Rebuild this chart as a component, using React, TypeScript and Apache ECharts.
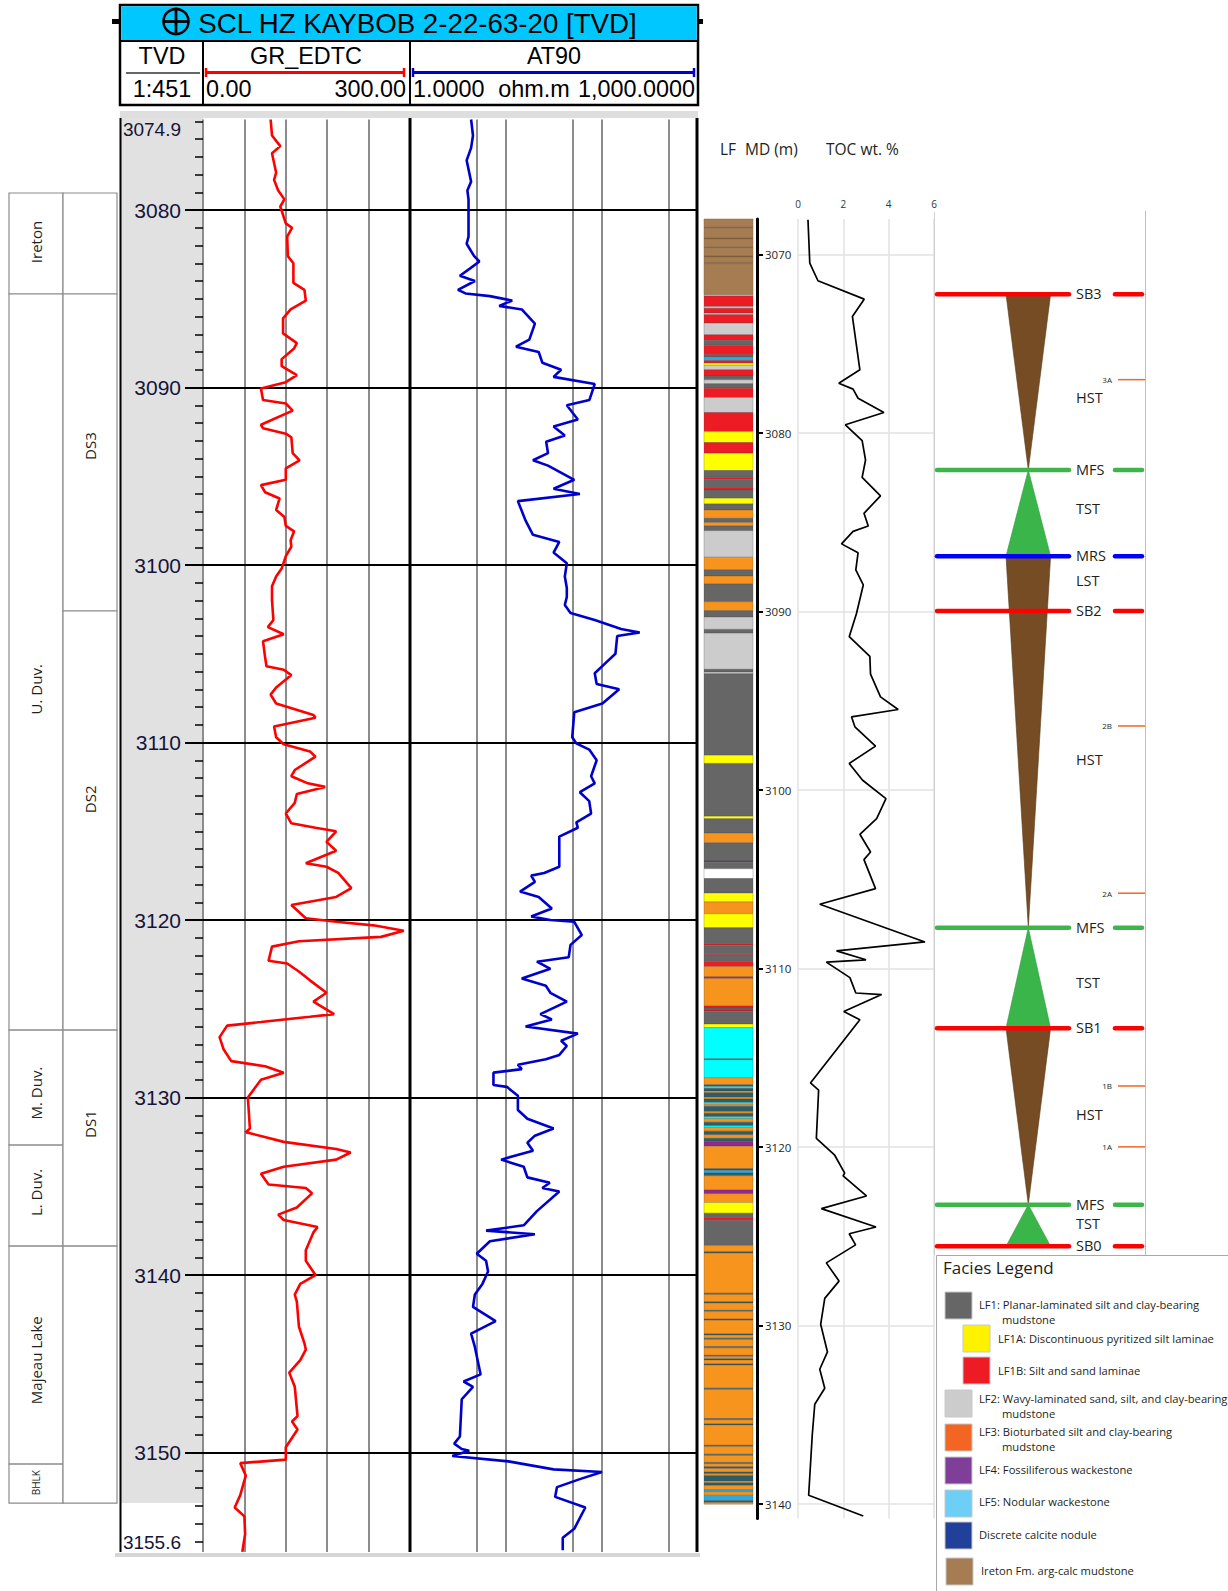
import React, { useEffect, useRef } from 'react';
import * as echarts from 'echarts';

// ---------------- DATA ----------------
const TVD_MIN = 3074.9;
const TVD_MAX = 3155.6;
const MD_MIN = 3068;
const MD_MAX = 3140.8;
const LF_BASE = 3140.0;

const tvdLabelValues = [3074.9, 3080, 3090, 3100, 3110, 3120, 3130, 3140, 3150, 3155.6];
const tvdMajor = [3080, 3090, 3100, 3110, 3120, 3130, 3140, 3150];
const mdMajor = [3070, 3080, 3090, 3100, 3110, 3120, 3130, 3140];
const at90GridValues = [5, 10, 50, 100, 500];

// GR_EDTC (API) vs TVD (m)
const grDepth = [3074.9, 3075.8, 3076.4, 3076.8, 3077.9, 3078.3, 3078.9, 3079.4, 3079.8, 3080.75, 3081.0, 3081.5, 3082.6, 3083.0, 3084.1, 3084.5, 3085.1, 3085.6, 3086.1, 3086.95, 3087.5, 3087.8, 3088.4, 3088.8, 3089.3, 3089.7, 3090.05, 3090.7, 3090.9, 3091.3, 3092.1, 3092.3, 3092.6, 3092.8, 3093.7, 3094.1, 3094.55, 3095.2, 3095.5, 3095.9, 3096.25, 3096.9, 3097.3, 3097.8, 3098.1, 3098.6, 3098.97, 3099.5, 3100.2, 3100.65, 3101.2, 3101.97, 3103.1, 3103.5, 3103.9, 3104.3, 3105.2, 3105.7, 3105.9, 3106.2, 3106.9, 3107.3, 3107.8, 3108.2, 3108.45, 3108.6, 3109.1, 3109.7, 3110.1, 3110.5, 3110.8, 3111.55, 3111.9, 3112.3, 3112.5, 3112.9, 3113.4, 3114.0, 3114.55, 3114.8, 3115.0, 3115.6, 3116.1, 3116.8, 3117.0, 3117.35, 3118.2, 3118.7, 3119.15, 3119.9, 3120.1, 3120.3, 3120.6, 3120.95, 3121.2, 3121.5, 3122.3, 3122.45, 3122.9, 3123.4, 3124.1, 3124.6, 3125.3, 3125.45, 3125.75, 3125.95, 3126.6, 3127.3, 3127.95, 3128.24, 3128.6, 3129.0, 3130.0, 3131.75, 3131.95, 3132.5, 3132.9, 3133.1, 3133.5, 3133.9, 3134.3, 3134.9, 3135.1, 3135.4, 3136.2, 3136.6, 3136.9, 3137.3, 3137.6, 3138.6, 3139.2, 3140.0, 3140.5, 3141.1, 3141.5, 3142.9, 3143.85, 3144.2, 3144.8, 3145.5, 3146.3, 3147.95, 3148.25, 3148.7, 3149.7, 3150.4, 3150.6, 3151.3, 3152.4, 3153.1, 3153.6, 3154.6, 3155.6];
const grValue = [98, 100, 112, 100, 106, 103, 109, 118, 112, 120, 129, 122, 123, 131, 131, 147, 149, 127, 116, 116, 136, 132, 114, 114, 136, 120, 84, 87, 120, 130, 84, 87, 120, 128, 130, 140, 120, 120, 84, 90, 111, 106, 118, 120, 132, 127, 128, 120, 114, 106, 100, 100, 102, 94, 117, 87, 90, 92, 117, 128, 106, 98, 106, 139, 160, 163, 103, 106, 117, 155, 163, 133, 128, 152, 177, 136, 133, 120, 128, 163, 193, 179, 193, 149, 179, 196, 215, 193, 128, 149, 193, 247, 291, 258, 139, 100, 95, 122, 139, 155, 179, 160, 190, 155, 84, 35, 24, 30, 41, 90, 117, 84, 65, 68, 62, 117, 193, 214, 193, 117, 84, 95, 149, 158, 136, 109, 117, 166, 160, 149, 149, 163, 141, 133, 136, 139, 147, 149, 141, 125, 133, 137, 129, 137, 120, 120, 54, 62, 54, 46, 60, 61, 57];

// AT90 (ohm.m) vs TVD (m)
const atDepth = [3074.9, 3075.8, 3076.5, 3077.2, 3078.4, 3078.9, 3079.4, 3081.5, 3081.9, 3082.6, 3082.9, 3083.3, 3083.7, 3084.0, 3084.5, 3084.7, 3084.85, 3085.1, 3085.4, 3085.6, 3086.4, 3087.3, 3087.7, 3088.0, 3088.6, 3089.0, 3089.4, 3089.8, 3090.7, 3091.0, 3091.8, 3092.2, 3092.7, 3093.05, 3093.7, 3094.1, 3094.4, 3095.2, 3095.7, 3096.0, 3096.4, 3097.5, 3098.3, 3098.7, 3099.3, 3099.9, 3100.65, 3101.3, 3101.8, 3102.25, 3102.7, 3103.1, 3103.6, 3103.8, 3104.0, 3105.0, 3105.5, 3106.1, 3106.7, 3107.0, 3107.8, 3108.3, 3109.7, 3110.05, 3110.4, 3111.0, 3111.9, 3112.3, 3112.8, 3113.3, 3114.0, 3114.5, 3114.8, 3115.3, 3117.0, 3117.35, 3117.5, 3117.85, 3118.4, 3118.7, 3119.35, 3119.8, 3120.0, 3120.1, 3120.85, 3121.4, 3122.1, 3122.35, 3122.75, 3123.3, 3123.7, 3124.1, 3124.6, 3125.3, 3125.6, 3126.0, 3126.4, 3126.8, 3127.1, 3127.6, 3127.85, 3128.15, 3128.4, 3128.6, 3129.3, 3129.4, 3129.9, 3130.7, 3131.2, 3131.75, 3132.15, 3132.55, 3133.0, 3133.5, 3133.9, 3134.5, 3134.8, 3135.1, 3135.3, 3136.4, 3137.2, 3137.5, 3137.7, 3138.1, 3138.8, 3139.2, 3139.8, 3140.5, 3141.1, 3141.8, 3142.6, 3143.3, 3144.05, 3145.6, 3146.0, 3146.3, 3147.0, 3149.1, 3149.5, 3149.8, 3149.9, 3150.2, 3150.5, 3150.95, 3151.1, 3151.5, 3151.95, 3152.5, 3153.1, 3154.3, 3154.8, 3155.5];
const atValue = [4.33, 4.53, 4.33, 3.89, 4.33, 3.96, 4.07, 4.07, 3.89, 4.66, 5.28, 4.2, 3.31, 4.74, 3.16, 3.79, 6.79, 11.6, 8.5, 14.6, 20, 17.5, 12.7, 21.9, 23.9, 37.5, 31.3, 84, 74, 43, 56, 31.3, 41, 26.2, 27.4, 19.1, 27.4, 51.4, 31.3, 58.8, 13.3, 16, 19.1, 35.9, 31.3, 43, 41, 43, 43, 41, 47, 84, 158, 247, 144, 138, 110, 84, 88, 151, 101, 51.4, 49, 54, 73.6, 88, 77, 84, 58.8, 73.6, 77, 54, 56, 35.9, 35.9, 25, 18.3, 20, 14, 21.9, 30, 18.3, 29, 51.4, 61.6, 47, 45, 21, 29, 14.6, 26, 29, 43, 22.8, 30, 16, 56, 37.5, 43, 35.9, 26, 13.3, 14.6, 7.4, 7.4, 10.2, 13.3, 13.3, 16.7, 31.3, 20, 16.7, 19.1, 8.9, 15.3, 16.7, 28.6, 23.9, 35.9, 21, 15.3, 6.2, 20, 6.8, 4.96, 6.2, 6.5, 5.68, 4.74, 4.53, 7.8, 4.33, 4.74, 5.44, 3.62, 4.53, 3.46, 3.31, 2.89, 3.46, 4.14, 2.76, 10.6, 31.3, 100, 58.8, 34, 32.5, 67, 51.4, 39, 39];

// TOC (wt. %) vs MD (m)
const tocDepth = [3068.04, 3070.47, 3071.46, 3072.49, 3073.46, 3076.45, 3077.2, 3077.53, 3078.04, 3078.84, 3079.53, 3080.41, 3081.5, 3082.47, 3083.51, 3084.49, 3085.2, 3085.5, 3086.2, 3086.7, 3087.66, 3088.5, 3090.1, 3091.4, 3092.5, 3093.5, 3094.77, 3095.48, 3095.89, 3096.45, 3097.53, 3098.5, 3099.44, 3100.47, 3101.59, 3102.47, 3103.46, 3103.89, 3105.51, 3106.39, 3108.5, 3109.0, 3109.5, 3109.63, 3110.5, 3111.36, 3111.45, 3112.4, 3112.86, 3116.4, 3116.8, 3119.5, 3120.45, 3121.45, 3121.6, 3122.73, 3123.44, 3124.47, 3124.85, 3125.47, 3126.48, 3127.5, 3128.47, 3129.92, 3131.47, 3132.44, 3133.5, 3134.4, 3136.1, 3139.5, 3140.66];
const tocValue = [0.44, 0.52, 0.88, 2.92, 2.40, 2.73, 1.80, 2.43, 2.65, 3.79, 2.09, 2.83, 2.98, 2.83, 3.64, 2.91, 3.10, 2.43, 1.92, 2.65, 2.55, 2.88, 2.58, 2.26, 3.17, 3.2, 3.64, 4.42, 2.36, 2.51, 3.42, 2.26, 2.85, 3.88, 3.47, 2.73, 3.2, 2.91, 3.42, 0.96, 5.6, 1.70, 3.0, 1.25, 2.29, 2.55, 3.69, 2.02, 2.73, 0.55, 0.91, 0.81, 1.62, 2.06, 1.99, 3.02, 1.03, 3.44, 2.26, 2.54, 1.25, 1.81, 1.18, 1.0, 1.30, 0.96, 1.18, 0.74, 0.63, 0.47, 2.88];

// Lithofacies column: interval tops (MD) and facies code; base = next top
const lfTop = [
  3068.00, 3068.46, 3068.53, 3069.06, 3069.12, 3069.58, 3069.64, 3070.06, 3070.13, 3070.44, 3070.50,
  3072.24, 3072.32, 3072.90, 3073.00, 3073.27, 3073.36, 3073.83, 3074.49, 3074.80, 3075.08, 3075.61, 3075.74, 3075.93, 3076.07, 3076.20, 3076.45, 3076.79, 3077.01, 3077.23, 3077.48, 3078.00, 3078.84, 3079.91, 3080.52, 3081.12, 3082.09, 3082.47, 3082.58, 3083.05, 3083.18, 3083.64, 3083.96,
  3084.30, 3084.77, 3085.00, 3085.20, 3085.46, 3086.95, 3087.66, 3088.00, 3088.45, 3089.44, 3089.94, 3090.30, 3090.99, 3091.20, 3093.23, 3093.38, 3093.48, 3098.04, 3098.50, 3101.46, 3101.60, 3102.40, 3102.95, 3103.96, 3104.03, 3104.40, 3104.95, 3105.76, 3106.26, 3106.92, 3107.70, 3108.60, 3108.68, 3109.15, 3109.22, 3109.60, 3109.88, 3110.45, 3110.55,
  3112.09, 3112.20, 3112.32, 3112.38, 3113.10, 3113.30, 3115.05, 3115.10, 3116.10, 3116.50, 3116.60, 3116.70, 3116.85, 3116.95, 3117.20, 3117.30, 3117.50, 3117.60, 3117.70, 3118.00, 3118.10, 3118.30, 3118.40, 3118.60, 3118.80, 3118.90, 3119.10, 3119.30, 3119.50, 3119.70, 3119.94,
  3121.20, 3121.30, 3121.45, 3121.60, 3122.40, 3122.60, 3123.10, 3123.70, 3123.95, 3124.10, 3125.50,
  3125.86, 3125.93, 3128.18, 3128.25, 3128.66, 3128.73, 3129.14, 3129.21, 3129.63, 3129.70, 3130.46, 3130.53, 3130.70, 3130.77, 3131.17, 3131.24, 3131.66, 3131.73, 3131.85, 3131.92, 3132.14, 3132.21, 3133.50, 3133.57, 3135.20, 3135.27, 3135.50, 3135.57, 3136.70, 3136.77, 3137.20, 3137.27, 3137.66, 3137.73,
  3137.90, 3138.00, 3138.20, 3138.30, 3138.40, 3138.70, 3138.80, 3138.95, 3139.20, 3139.30, 3139.50, 3139.80, 3139.90,
];
const lfCode = [
  'IR', 'IRL', 'IR', 'IRL', 'IR', 'IRL', 'IR', 'IRL', 'IR', 'IRL', 'IR',
  'LG', 'R', 'LG', 'R', 'LG', 'R', 'LG', 'R', 'DG', 'R', 'DG', 'B', 'R', 'Y', 'LG', 'R', 'DG', 'LG', 'DG', 'R', 'LG', 'R', 'Y', 'R', 'Y', 'DG', 'R', 'DG', 'R', 'DG', 'Y', 'DG',
  'O', 'DG', 'O', 'DG', 'LG', 'O', 'DG', 'O', 'DG', 'O', 'DG', 'LG', 'DG', 'LG', 'DG', 'LG', 'DG', 'Y', 'DG', 'Y', 'DG', 'O', 'DG', 'P', 'DG', 'W', 'DG', 'Y', 'O', 'Y', 'DG', 'R', 'DG', 'R', 'DG', 'R', 'O', 'R', 'O',
  'R', 'DG', 'R', 'DG', 'Y', 'C', 'T', 'C', 'O', 'T', 'C', 'T', 'O', 'T', 'O', 'T', 'C', 'O', 'T', 'O', 'T', 'C', 'O', 'T', 'C', 'O', 'T', 'O', 'T', 'P', 'O',
  'T', 'B', 'T', 'O', 'P', 'O', 'Y', 'DG', 'R', 'DG', 'O',
  'T', 'O', 'T', 'O', 'T', 'O', 'T', 'O', 'T', 'O', 'T', 'O', 'T', 'O', 'T', 'O', 'T', 'O', 'T', 'O', 'T', 'O', 'T', 'O', 'T', 'O', 'T', 'O', 'T', 'O', 'T', 'O', 'T', 'O',
  'T', 'O', 'T', 'O', 'T', 'O', 'T', 'O', 'B', 'O', 'B', 'T', 'O',
];

// Stratigraphic columns (TVD)
const stratCol = [0, 0, 0, 0, 0, 0, 1, 1, 1, 1, 1];
const stratName = ['Ireton', 'U. Duv.', 'M. Duv.', 'L. Duv.', 'Majeau Lake', 'BHLK', '', 'DS3', 'DS2', 'DS1', ''];
const stratTop = [3079.04, 3084.73, 3126.2, 3132.68, 3138.37, 3150.65, 3079.04, 3084.73, 3102.59, 3126.2, 3138.37];
const stratBase = [3084.73, 3126.2, 3132.68, 3138.37, 3150.65, 3152.85, 3084.73, 3102.59, 3126.2, 3138.37, 3152.85];
const stratLabelDepth = [3081.8, 3107.0, 3129.75, 3135.35, 3144.8, 3151.7, 3081.8, 3093.3, 3113.2, 3131.5, 3145.0];

// Sequence stratigraphy (MD)
const surfName = ['SB3', 'MFS', 'MRS', 'SB2', 'MFS', 'SB1', 'MFS', 'SB0'];
const surfDepth = [3072.22, 3082.06, 3086.89, 3089.96, 3107.7, 3113.33, 3123.22, 3125.55];
const surfKind = [0, 1, 2, 0, 1, 0, 1, 0];
const tractTop = [3072.22, 3082.06, 3086.89, 3107.7, 3113.33, 3123.22];
const tractBase = [3082.06, 3086.89, 3107.7, 3113.33, 3123.22, 3125.55];
const tractRegressive = [1, 0, 1, 0, 1, 0];
const tractLabel = ['HST', 'TST', 'LST', 'HST', 'TST', 'HST', 'TST'];
const tractLabelDepth = [3078.0, 3084.2, 3088.25, 3098.26, 3110.77, 3118.16, 3124.25];
const psName = ['3A', '2B', '2A', '1B', '1A'];
const psDepth = [3077.0, 3096.4, 3105.77, 3116.57, 3119.98];

// Legend
const legendLabels = [
  ['LF1: Planar-laminated silt and clay-bearing', 'mudstone'],
  ['LF1A: Discontinuous pyritized silt laminae'],
  ['LF1B: Silt and sand laminae'],
  ['LF2: Wavy-laminated sand, silt, and clay-bearing', 'mudstone'],
  ['LF3: Bioturbated silt and clay-bearing', 'mudstone'],
  ['LF4: Fossiliferous wackestone'],
  ['LF5: Nodular wackestone'],
  ['Discrete calcite nodule'],
  ['Ireton Fm. arg-calc mudstone'],
];
const legendColors = ['#666666', '#FFF200', '#ED1C24', '#CCCCCC', '#F26522', '#7F3F98', '#6DCFF6', '#21409A', '#A67C52'];

// ---------------- STYLE ----------------
const LF_COLORS: Record<string, string> = {
  IR: '#A67C52', IRL: '#6E5136', R: '#ED1C24', LG: '#CCCCCC', DG: '#666666', Y: '#FFFF00',
  O: '#F7941D', C: '#00FFFF', B: '#29ABE2', P: '#92278F', W: '#FFFFFF', T: '#2F5D66',
};
const SURF_COLORS = ['#FF0000', '#3DB54A', '#0000FF'];
const TRACT_COLORS = ['#39B54A', '#754C24'];
const SANS = '"Open Sans", "Noto Sans", sans-serif';
const ARIAL = '"Liberation Sans", Arial, sans-serif';
const INK = '#231F20';
const HDR = 23.4;

function txt(x: number, y: number, text: string, size: number, align: string, family: string, extra: any = {}) {
  return {
    type: 'text', x, y, z: 60,
    style: {
      text, fontSize: size, fontFamily: family, fill: extra.fill || '#000',
      align, textAlign: align, verticalAlign: 'middle', textVerticalAlign: 'middle',
    },
  };
}
function ln(x1: number, y1: number, x2: number, y2: number, stroke: string, w: number, z = 60) {
  return { type: 'line', z, shape: { x1, y1, x2, y2 }, style: { stroke, lineWidth: w } };
}

function buildGraphic() {
  const g: any[] = [];
  // backgrounds
  g.push({ type: 'rect', z: -1, shape: { x: 120, y: 111, width: 578, height: 7 }, style: { fill: '#dedede' } });
  g.push({ type: 'rect', z: -1, shape: { x: 121, y: 118, width: 82, height: 1385 }, style: { fill: '#E1E1E1' } });
  g.push({ type: 'rect', z: -1, shape: { x: 115, y: 1553, width: 585, height: 4 }, style: { fill: '#d6d6d6' } });
  // track borders
  g.push(ln(120.5, 118, 120.5, 1552, '#000', 2, 20));
  g.push(ln(410, 118, 410, 1552, '#000', 3, 20));
  g.push(ln(697, 118, 697, 1552, '#000', 3, 20));
  // header
  g.push({ type: 'rect', z: 50, shape: { x: 120, y: 5, width: 578, height: 100 }, style: { fill: '#fff', stroke: '#000', lineWidth: 2.5 } });
  g.push({ type: 'rect', z: 51, shape: { x: 121.3, y: 6.3, width: 575.4, height: 34.5 }, style: { fill: '#00C8FF' } });
  g.push(ln(120, 41, 698, 41, '#000', 2));
  g.push(ln(203, 41, 203, 105, '#000', 2));
  g.push(ln(410, 41, 410, 105, '#000', 2));
  g.push({ type: 'rect', z: 52, shape: { x: 112, y: 19, width: 7, height: 5 }, style: { fill: '#000' } });
  g.push({ type: 'rect', z: 52, shape: { x: 698, y: 19, width: 5, height: 5 }, style: { fill: '#000' } });
  g.push({ type: 'circle', z: 60, shape: { cx: 176, cy: 21.5, r: 12.5 }, style: { fill: 'none', stroke: '#000', lineWidth: 2.5 } });
  g.push(ln(163, 21.5, 189, 21.5, '#000', 2.8));
  g.push(ln(176, 9, 176, 34, '#000', 2.8));
  g.push(txt(417.5, 23, 'SCL HZ KAYBOB 2-22-63-20 [TVD]', 27.7, 'center', ARIAL));
  g.push(txt(162, 56, 'TVD', HDR, 'center', ARIAL));
  g.push(ln(126, 73, 200, 73, '#333', 1.5));
  g.push(txt(162, 89, '1:451', HDR, 'center', ARIAL));
  g.push(txt(306, 56, 'GR_EDTC', HDR, 'center', ARIAL));
  g.push(ln(206, 72.5, 404, 72.5, '#FF0000', 3));
  g.push(ln(206, 68, 206, 77, '#FF0000', 2.5));
  g.push(ln(404, 68, 404, 77, '#FF0000', 2.5));
  g.push(txt(206, 89, '0.00', HDR, 'left', ARIAL));
  g.push(txt(406, 89, '300.00', HDR, 'right', ARIAL));
  g.push(txt(554, 56, 'AT90', HDR, 'center', ARIAL));
  g.push(ln(413, 72.5, 694, 72.5, '#0000CC', 3));
  g.push(ln(413, 68, 413, 77, '#0000CC', 2.5));
  g.push(ln(694, 68, 694, 77, '#0000CC', 2.5));
  g.push(txt(413, 89, '1.0000', HDR, 'left', ARIAL));
  g.push(txt(534, 89, 'ohm.m', HDR, 'center', ARIAL));
  g.push(txt(695, 89, '1,000.0000', HDR, 'right', ARIAL));

  // right-panel headers
  g.push(txt(720, 149, 'LF', 15.5, 'left', SANS, { fill: INK }));
  g.push(txt(745, 149, 'MD (m)', 15.5, 'left', SANS, { fill: INK }));
  g.push(txt(826, 149, 'TOC wt. %', 15.5, 'left', SANS, { fill: INK }));
  // sequence panel borders
  g.push(ln(934.5, 212, 934.5, 1255, '#cfcfcf', 1, 1));
  g.push(ln(1145.5, 211, 1145.5, 1255, '#bdbdbd', 1, 1));

  // legend
  g.push({ type: 'rect', z: 55, shape: { x: 936.5, y: 1255.5, width: 300, height: 340 }, style: { fill: '#fff', stroke: '#a8a8a8', lineWidth: 1 } });
  g.push(txt(943, 1267, 'Facies Legend', 17, 'left', SANS, { fill: INK }));
  const swX = [945, 963, 963, 945, 945, 945, 945, 945, 946];
  const swY = [1292, 1325, 1357, 1390, 1424, 1457, 1490, 1522, 1558];
  const tX = [979, 998, 998, 979, 979, 979, 979, 979, 981];
  const tY = [1304, 1338, 1370, 1398, 1431, 1469, 1501, 1534, 1570];
  legendLabels.forEach((lines, i) => {
    g.push({ type: 'rect', z: 60, shape: { x: swX[i], y: swY[i], width: 27, height: 27 }, style: { fill: legendColors[i], stroke: '#c8c8c8', lineWidth: 1 } });
    g.push(txt(tX[i], tY[i], lines[0], 11.2, 'left', SANS, { fill: INK }));
    if (lines[1]) g.push(txt(1002, tY[i] + 15, lines[1], 11.2, 'left', SANS, { fill: INK }));
  });
  return g;
}

function buildOption() {
  const tvdMinor: number[] = [];
  for (let d = Math.ceil(TVD_MIN); d <= Math.floor(TVD_MAX); d++) if (d % 10 !== 0) tvdMinor.push(d);

  const tvdAxisBase = { type: 'value', inverse: true, min: TVD_MIN, max: TVD_MAX };
  const mdAxisBase = { type: 'value', inverse: true, min: MD_MIN, max: MD_MAX };
  const gridTVD = { top: 119.5, height: 1432.4 };
  const gridMD = { top: 219, height: 1299.5 };

  const stratData = stratTop.map((t, i) => [stratCol[i], t, stratBase[i], stratLabelDepth[i], i]);
  const lfData = lfTop.map((t, i) => [0, t, i + 1 < lfTop.length ? lfTop[i + 1] : LF_BASE, i]);
  const tractData = tractTop.map((t, i) => [0, t, tractBase[i], i]);
  const surfData = surfDepth.map((d, i) => [0, d, i]);
  const psData = psDepth.map((d, i) => [0, d, i]);
  const tractLabelData = tractLabelDepth.map((d, i) => [0, d, i]);

  return {
    animation: false,
    backgroundColor: '#ffffff',
    grid: [
      { left: 203, width: 207, ...gridTVD },
      { left: 410, width: 288, ...gridTVD },
      { left: 9, width: 108, ...gridTVD },
      { left: 704, width: 49, ...gridMD },
      { left: 798, width: 136, ...gridMD },
      { left: 934, width: 211, ...gridMD },
    ],
    xAxis: [
      { gridIndex: 0, type: 'value', min: 0, max: 300, interval: 60, axisLine: { show: false }, axisTick: { show: false }, axisLabel: { show: false }, splitLine: { show: true, lineStyle: { color: '#8c8c8c', width: 2 } } },
      { gridIndex: 1, type: 'log', logBase: 10, min: 1, max: 1000, show: false },
      { gridIndex: 2, type: 'value', min: 0, max: 2, show: false },
      { gridIndex: 3, type: 'value', min: 0, max: 1, show: false },
      { gridIndex: 4, type: 'value', min: 0, max: 6, interval: 2, position: 'top', axisLine: { show: false }, axisTick: { show: false }, axisLabel: { fontSize: 10, color: '#333', margin: 10, fontFamily: SANS }, splitLine: { show: true, lineStyle: { color: '#e2e2e2', width: 1.5 } } },
      { gridIndex: 5, type: 'value', min: 0, max: 1, show: false },
    ],
    yAxis: [
      {
        gridIndex: 0, ...tvdAxisBase, position: 'left', splitNumber: 8,
        axisLine: { show: false },
        axisTick: { show: true, length: 18, lineStyle: { color: '#000', width: 2 }, customValues: tvdMajor },
        axisLabel: {
          show: true, margin: 22, fontSize: 21, fontFamily: ARIAL, color: '#15153a',
          customValues: tvdLabelValues,
          verticalAlignMinLabel: 'top', verticalAlignMaxLabel: 'bottom',
          formatter: (v: number) => {
            const s = String(Math.round(v * 10) / 10);
            return Math.abs(v - TVD_MIN) < 1e-6 || Math.abs(v - TVD_MAX) < 1e-6 ? '{e|' + s + '}' : s;
          },
          rich: { e: { fontSize: 19, fontFamily: ARIAL, color: '#15153a' } },
        },
        splitLine: { show: false },
      },
      {
        gridIndex: 0, ...tvdAxisBase, position: 'left',
        axisLine: { show: false }, axisLabel: { show: false }, splitLine: { show: false },
        axisTick: { show: true, length: 8, lineStyle: { color: '#000', width: 1.5 }, customValues: tvdMinor },
      },
      { gridIndex: 1, ...tvdAxisBase, show: false },
      { gridIndex: 2, ...tvdAxisBase, show: false },
      {
        gridIndex: 3, ...mdAxisBase, position: 'right', offset: 4,
        axisLine: { show: true, onZero: false, lineStyle: { color: '#000', width: 3 } },
        axisTick: { show: true, inside: false, length: 6, lineStyle: { color: '#000', width: 2 }, customValues: mdMajor },
        axisLabel: { show: true, margin: 8, fontSize: 11.5, fontFamily: SANS, color: INK, customValues: mdMajor, formatter: (v: number) => (v % 10 === 0 ? String(v) : '') },
        splitLine: { show: false },
      },
      { gridIndex: 4, ...mdAxisBase, show: false },
      { gridIndex: 5, ...mdAxisBase, show: false },
    ],
    series: [
      {
        type: 'line', name: 'GR_EDTC', xAxisIndex: 0, yAxisIndex: 0, z: 10, silent: true,
        data: grDepth.map((d, i) => [grValue[i], d]),
        showSymbol: false, symbol: 'none', lineStyle: { color: '#FF0000', width: 2.6 }, itemStyle: { color: '#FF0000' },
        markLine: {
          silent: true, symbol: ['none', 'none'], label: { show: false }, z: 3,
          lineStyle: { color: '#000', width: 2, type: 'solid' },
          data: tvdMajor.map((v) => ({ yAxis: v })),
        },
      },
      {
        type: 'line', name: 'AT90', xAxisIndex: 1, yAxisIndex: 2, z: 10, silent: true,
        data: atDepth.map((d, i) => [atValue[i], d]),
        showSymbol: false, symbol: 'none', lineStyle: { color: '#0000CC', width: 2.6 }, itemStyle: { color: '#0000CC' },
        markLine: {
          silent: true, symbol: ['none', 'none'], label: { show: false }, z: 3,
          data: [
            ...at90GridValues.map((v) => ({ xAxis: v, lineStyle: { color: '#8c8c8c', width: 2, type: 'solid' } })),
            ...tvdMajor.map((v) => ({ yAxis: v, lineStyle: { color: '#000', width: 2, type: 'solid' } })),
          ],
        },
      },
      {
        type: 'custom', name: 'strat', xAxisIndex: 2, yAxisIndex: 3, silent: true, z: 5,
        data: stratData,
        renderItem: (params: any, api: any) => {
          const col = api.value(0);
          const p1 = api.coord([col, api.value(1)]);
          const p2 = api.coord([col + 1, api.value(2)]);
          const ly = api.coord([col, api.value(3)])[1];
          const name = stratName[api.value(4)];
          return {
            type: 'group',
            children: [
              { type: 'rect', shape: { x: p1[0], y: p1[1], width: p2[0] - p1[0], height: p2[1] - p1[1] }, style: { fill: '#fff', stroke: '#8c8c8c', lineWidth: 1.2 } },
              {
                type: 'text', x: (p1[0] + p2[0]) / 2, y: ly, rotation: Math.PI / 2,
                style: { text: name, fontSize: name === 'BHLK' ? 10 : 15, fontFamily: SANS, fill: INK, align: 'center', verticalAlign: 'middle', textAlign: 'center', textVerticalAlign: 'middle' },
              },
            ],
          };
        },
      },
      {
        type: 'custom', name: 'LF', xAxisIndex: 3, yAxisIndex: 4, silent: true, z: 5,
        data: lfData,
        renderItem: (params: any, api: any) => {
          const p1 = api.coord([0, api.value(1)]);
          const p2 = api.coord([1, api.value(2)]);
          const code = lfCode[api.value(3)] || 'O';
          return {
            type: 'rect',
            shape: { x: p1[0], y: p1[1], width: p2[0] - p1[0], height: Math.max(p2[1] - p1[1], 0.8) },
            style: { fill: LF_COLORS[code], stroke: code === 'IR' || code === 'IRL' ? '#8a6a48' : 'rgba(70,70,70,0.55)', lineWidth: 0.5 },
          };
        },
      },
      {
        type: 'line', name: 'TOC', xAxisIndex: 4, yAxisIndex: 5, z: 10, silent: true,
        data: tocDepth.map((d, i) => [tocValue[i], d]),
        showSymbol: false, symbol: 'none', lineStyle: { color: '#000', width: 1.7 }, itemStyle: { color: '#000' },
        markLine: {
          silent: true, symbol: ['none', 'none'], label: { show: false }, z: 3,
          lineStyle: { color: '#e2e2e2', width: 1.5, type: 'solid' },
          data: mdMajor.map((v) => ({ yAxis: v })),
        },
      },
      {
        type: 'custom', name: 'tracts', xAxisIndex: 5, yAxisIndex: 6, silent: true, z: 4,
        data: tractData,
        renderItem: (params: any, api: any) => {
          const cs = params.coordSys;
          const i = api.value(3);
          const yt = api.coord([0, api.value(1)])[1];
          const yb = api.coord([0, api.value(2)])[1];
          const cx = cs.x + 94.3;
          const h = 22.3;
          const reg = tractRegressive[i] === 1;
          const pts = reg ? [[cx - h, yt], [cx + h, yt], [cx, yb]] : [[cx, yt], [cx + h, yb], [cx - h, yb]];
          return { type: 'polygon', shape: { points: pts }, style: { fill: TRACT_COLORS[reg ? 1 : 0], stroke: reg ? '#5c3a1a' : '#2f9a3c', lineWidth: 0.6 } };
        },
      },
      {
        type: 'custom', name: 'surfaces', xAxisIndex: 5, yAxisIndex: 6, silent: true, z: 6,
        data: surfData,
        renderItem: (params: any, api: any) => {
          const cs = params.coordSys;
          const i = api.value(2);
          const y = api.coord([0, api.value(1)])[1];
          const col = SURF_COLORS[surfKind[i]];
          return {
            type: 'group',
            children: [
              { type: 'line', shape: { x1: cs.x + 3, y1: y, x2: cs.x + 135, y2: y }, style: { stroke: col, lineWidth: 4.5, lineCap: 'round' } },
              { type: 'line', shape: { x1: cs.x + 181, y1: y, x2: cs.x + 208, y2: y }, style: { stroke: col, lineWidth: 4.5, lineCap: 'round' } },
              { type: 'text', x: cs.x + 142, y: y - 0.5, style: { text: surfName[i], fontSize: 14.5, fontFamily: SANS, fill: INK, align: 'left', verticalAlign: 'middle', textAlign: 'left', textVerticalAlign: 'middle' } },
            ],
          };
        },
      },
      {
        type: 'custom', name: 'parasequences', xAxisIndex: 5, yAxisIndex: 6, silent: true, z: 6,
        data: psData,
        renderItem: (params: any, api: any) => {
          const cs = params.coordSys;
          const i = api.value(2);
          const y = api.coord([0, api.value(1)])[1];
          return {
            type: 'group',
            children: [
              { type: 'line', shape: { x1: cs.x + 184, y1: y, x2: cs.x + 211, y2: y }, style: { stroke: '#F26522', lineWidth: 1.5 } },
              { type: 'text', x: cs.x + 178, y, style: { text: psName[i], fontSize: 8, fontFamily: SANS, fill: INK, align: 'right', verticalAlign: 'middle', textAlign: 'right', textVerticalAlign: 'middle' } },
            ],
          };
        },
      },
      {
        type: 'custom', name: 'tractLabels', xAxisIndex: 5, yAxisIndex: 6, silent: true, z: 6,
        data: tractLabelData,
        renderItem: (params: any, api: any) => {
          const cs = params.coordSys;
          const i = api.value(2);
          const y = api.coord([0, api.value(1)])[1];
          return { type: 'text', x: cs.x + 142, y, style: { text: tractLabel[i], fontSize: 14.5, fontFamily: SANS, fill: INK, align: 'left', verticalAlign: 'middle', textAlign: 'left', textVerticalAlign: 'middle' } };
        },
      },
    ],
    graphic: { elements: buildGraphic() },
  };
}

export default function App() {
  const ref = useRef<HTMLDivElement>(null);
  useEffect(() => {
    if (!ref.current) return;
    const chart = echarts.init(ref.current, null, { renderer: 'svg', width: 1228, height: 1591 });
    chart.setOption(buildOption() as any);
    return () => chart.dispose();
  }, []);
  return <div ref={ref} style={{ position: 'absolute', left: 0, top: 0, width: 1228, height: 1591, background: '#fff' }} />;
}
